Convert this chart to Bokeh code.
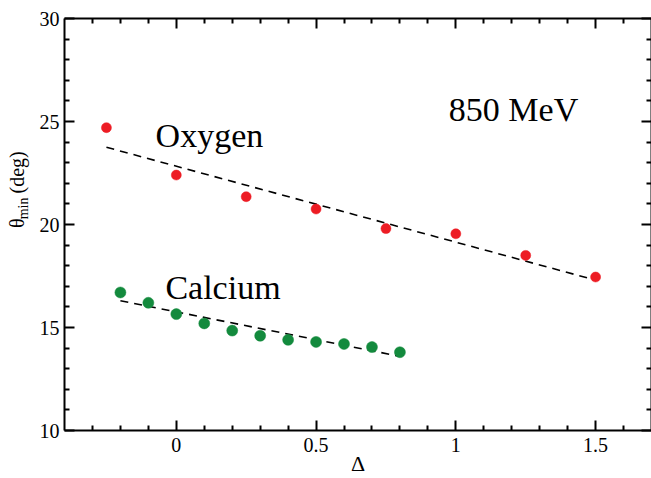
import math
from bokeh.plotting import figure
from bokeh.layouts import row
from bokeh.models import LinearAxis, FixedTicker, Range1d, Label
from bokeh.embed import file_html
from bokeh.resources import INLINE

# ---- data ----
oxygen_delta = [-0.25, 0.0, 0.25, 0.5, 0.75, 1.0, 1.25, 1.5]
oxygen_theta = [24.7, 22.4, 21.35, 20.75, 19.8, 19.55, 18.5, 17.45]
calcium_delta = [-0.2, -0.1, 0.0, 0.1, 0.2, 0.3, 0.4, 0.5, 0.6, 0.7, 0.8]
calcium_theta = [16.7, 16.2, 15.65, 15.2, 14.85, 14.6, 14.4, 14.3, 14.2, 14.05, 13.8]
oxygen_fit_delta = [-0.25, 1.5]
oxygen_fit_theta = [23.75, 17.3]
calcium_fit_delta = [-0.2, 0.8]
calcium_fit_theta = [16.3, 13.6]

x_major = [0, 0.5, 1, 1.5]
x_major_labels = ["0", "0.5", "1", "1.5"]
x_minor = [-0.3, -0.2, -0.1, 0.1, 0.2, 0.3, 0.4, 0.6, 0.7, 0.8, 0.9,
           1.1, 1.2, 1.3, 1.4, 1.6]
y_major = [10, 15, 20, 25, 30]
y_major_labels = ["10", "15", "20", "25", "30"]
y_minor = [11, 12, 13, 14, 16, 17, 18, 19, 21, 22, 23, 24, 26, 27, 28, 29]

FONT = "Liberation Serif"
RED = "#ED1C24"
GREEN = "#138A3D"

H = 478          # total height
LW = 34          # width of the strip holding the y-axis title
W = 651 - LW

p = figure(width=W, height=H, output_backend="svg", toolbar_location=None,
           x_range=Range1d(-0.4, 1.7), y_range=Range1d(10, 30),
           x_axis_location=None, y_axis_location=None,
           min_border_left=30, min_border_right=0, min_border_top=18,
           min_border_bottom=47)
p.grid.visible = False
p.outline_line_color = None
p.background_fill_color = "white"
p.border_fill_color = "white"


def style_axis(ax, ticks, minor, labels, show_labels, standoff):
    ax.ticker = FixedTicker(ticks=ticks, minor_ticks=minor)
    ax.axis_line_width = 2
    ax.axis_line_color = "black"
    ax.major_tick_in = 10
    ax.major_tick_out = 0
    ax.minor_tick_in = 5
    ax.minor_tick_out = 0
    ax.major_tick_line_width = 2
    ax.minor_tick_line_width = 2
    ax.major_tick_line_color = "black"
    ax.minor_tick_line_color = "black"
    if show_labels:
        ax.major_label_overrides = {t: l for t, l in zip(ticks, labels)}
        ax.major_label_text_font = FONT
        ax.major_label_text_font_size = "20px"
        ax.major_label_text_color = "black"
        ax.major_label_standoff = standoff
    else:
        ax.major_label_text_font_size = "0px"
        ax.major_label_text_color = None
        ax.major_label_standoff = 0


xb = LinearAxis(axis_label="Δ")
style_axis(xb, x_major, x_minor, x_major_labels, True, 7)
xb.axis_label_text_font = FONT
xb.axis_label_text_font_size = "22px"
xb.axis_label_text_font_style = "normal"
xb.axis_label_text_color = "black"
xb.axis_label_standoff = -4
p.add_layout(xb, "below")
xt = LinearAxis()
style_axis(xt, x_major, x_minor, x_major_labels, False, 0)
p.add_layout(xt, "above")
yl = LinearAxis()
style_axis(yl, y_major, y_minor, y_major_labels, True, 5)
p.add_layout(yl, "left")
yr = LinearAxis()
style_axis(yr, y_major, y_minor, y_major_labels, False, 0)
p.add_layout(yr, "right")

# fits
p.line(oxygen_fit_delta, oxygen_fit_theta, line_color="black", line_width=1.6,
       line_dash="8 6")
p.line(calcium_fit_delta, calcium_fit_theta, line_color="black", line_width=1.6,
       line_dash="8 6")

# points
p.scatter(oxygen_delta, oxygen_theta, size=10, fill_color=RED, line_color=RED,
          line_width=0.5)
p.scatter(calcium_delta, calcium_theta, size=11, fill_color=GREEN,
          line_color=GREEN, line_width=0.5)

# in-plot texts
for txt, x, y in [("850 MeV", 0.975, 25.58), ("Oxygen", -0.074, 24.32),
                  ("Calcium", -0.039, 16.93)]:
    p.add_layout(Label(x=x, y=y, text=txt, text_font=FONT,
                       text_font_size="34px", text_color="black",
                       text_align="left", text_baseline="alphabetic"))

# y-axis title strip (1 unit = 1 px, y measured upward from the bottom)
q = figure(width=LW, height=H, output_backend="svg", toolbar_location=None,
           x_range=Range1d(0, LW), y_range=Range1d(0, H),
           x_axis_location=None, y_axis_location=None,
           min_border_left=0, min_border_right=0, min_border_top=0,
           min_border_bottom=0)
q.grid.visible = False
q.outline_line_color = None
q.background_fill_color = "white"
q.border_fill_color = "white"
for txt, x, y, size in [("θ", 16.6, H - 243, "20px"),
                        ("min", 22.8, H - 233, "14px"),
                        ("(deg)", 16.6, H - 203, "20px")]:
    q.add_layout(Label(x=x, y=y, text=txt, text_font=FONT,
                       text_font_size=size, text_color="black",
                       angle=math.pi / 2, text_align="left",
                       text_baseline="alphabetic"))

layout = row(q, p, spacing=0)
open("out.html", "w").write(file_html(layout, INLINE))
